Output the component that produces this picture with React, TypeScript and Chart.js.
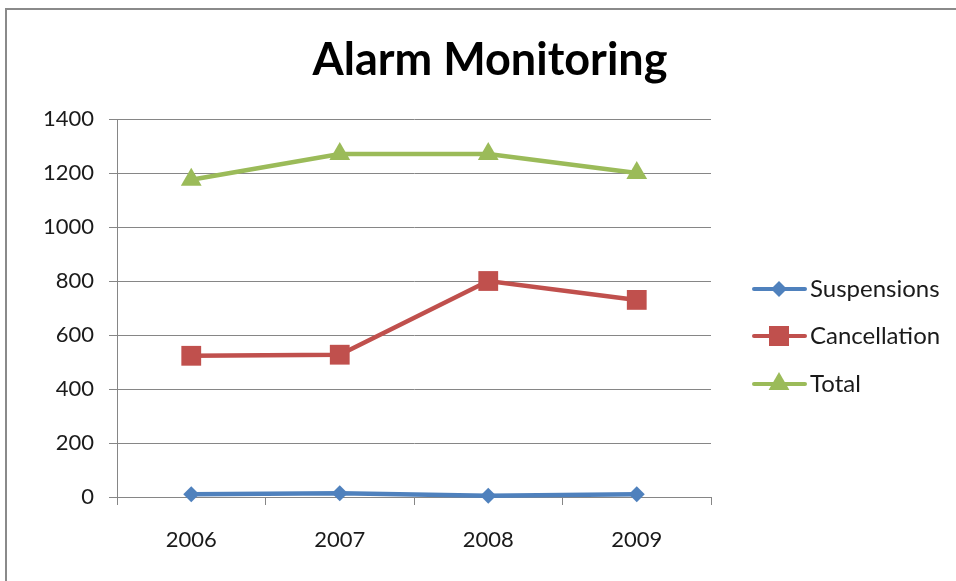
import React, { useEffect, useRef } from 'react';
import { Chart, registerables } from 'chart.js';

Chart.register(...registerables);

const categories = ['2006', '2007', '2008', '2009'];
const suspensions = [10, 14, 5, 10];
const cancellation = [523, 527, 800, 730];
const total = [1175, 1270, 1270, 1200];
const seriesNames = ['Suspensions', 'Cancellation', 'Total'];
const seriesColors = ['#4F81BD', '#C0504D', '#9BBB59'];
const seriesMarkers = ['rectRot', 'rect', 'triangle'];
const titleText = 'Alarm Monitoring';
const yMin = 0;
const yMax = 1400;
const yStep = 200;

const FONT = 'Lato, "Open Sans", sans-serif';

function drawMarker(ctx: CanvasRenderingContext2D, style: string, x: number, y: number, color: string) {
  ctx.save();
  ctx.fillStyle = color;
  ctx.beginPath();
  if (style === 'rectRot') {
    const r = 8;
    ctx.moveTo(x, y - r);
    ctx.lineTo(x + r, y);
    ctx.lineTo(x, y + r);
    ctx.lineTo(x - r, y);
  } else if (style === 'rect') {
    const s = 10;
    ctx.rect(x - s, y - s, 2 * s, 2 * s);
  } else {
    const r = 12;
    ctx.moveTo(x, y - r);
    ctx.lineTo(x + r * 0.866, y + r * 0.5);
    ctx.lineTo(x - r * 0.866, y + r * 0.5);
  }
  ctx.closePath();
  ctx.fill();
  ctx.restore();
}

const framePlugin = {
  id: 'frame',
  beforeDraw(chart: any) {
    const ctx = chart.ctx as CanvasRenderingContext2D;
    ctx.save();
    ctx.fillStyle = '#ffffff';
    ctx.fillRect(0, 0, chart.width, chart.height);
    ctx.strokeStyle = '#8a8a8a';
    ctx.lineWidth = 2;
    ctx.strokeRect(6, 9, chart.width + 20, chart.height + 20);
    ctx.restore();
  },
};

const titlePlugin = {
  id: 'customTitle',
  afterDraw(chart: any) {
    const ctx = chart.ctx as CanvasRenderingContext2D;
    ctx.save();
    ctx.fillStyle = '#000000';
    ctx.font = `bold 45px ${FONT}`;
    ctx.textAlign = 'center';
    ctx.textBaseline = 'middle';
    ctx.fillText(titleText, 490, 60);
    ctx.restore();
  },
};

const legendPlugin = {
  id: 'customLegend',
  afterDraw(chart: any) {
    const ctx = chart.ctx as CanvasRenderingContext2D;
    const ys = [289, 336, 384];
    ctx.save();
    seriesNames.forEach((name, i) => {
      const y = ys[i];
      ctx.strokeStyle = seriesColors[i];
      ctx.lineWidth = 4;
      ctx.lineCap = 'round';
      ctx.beginPath();
      ctx.moveTo(754, y);
      ctx.lineTo(805, y);
      ctx.stroke();
      drawMarker(ctx, seriesMarkers[i], 779, y, seriesColors[i]);
      ctx.fillStyle = '#1a1a1a';
      ctx.font = `24px ${FONT}`;
      ctx.textAlign = 'left';
      ctx.textBaseline = 'middle';
      ctx.fillText(name, 810, y);
    });
    ctx.restore();
  },
};

export default function App() {
  const ref = useRef<HTMLCanvasElement | null>(null);

  useEffect(() => {
    if (!ref.current) return;
    const values = [suspensions, cancellation, total];
    const radii = [8, 14, 12];
    const chart = new Chart(ref.current, {
      type: 'line',
      data: {
        labels: categories,
        datasets: seriesNames.map((name, i) => ({
          label: name,
          data: values[i],
          borderColor: seriesColors[i],
          backgroundColor: seriesColors[i],
          borderWidth: 4.5,
          pointStyle: seriesMarkers[i] as any,
          pointRadius: radii[i],
          pointBorderWidth: 0,
          pointBackgroundColor: seriesColors[i],
          tension: 0,
          clip: false as any,
        })),
      },
      options: {
        responsive: false,
        animation: false,
        layout: { padding: { top: 119, right: 245, bottom: 0, left: 0 } },
        plugins: {
          legend: { display: false },
          title: { display: false },
          tooltip: { enabled: false },
        },
        scales: {
          x: {
            offset: true,
            afterFit(scale: any) {
              scale.height = 84;
            },
            grid: {
              offset: true,
              drawOnChartArea: false,
              drawTicks: true,
              tickLength: 8,
              color: '#868686',
            },
            border: { display: true, color: '#868686' },
            ticks: {
              color: '#1a1a1a',
              font: { family: FONT, size: 22 },
              padding: 22,
            },
          },
          y: {
            min: yMin,
            max: yMax,
            afterFit(scale: any) {
              scale.width = 117;
            },
            grid: {
              color: '#868686',
              drawTicks: true,
              tickLength: 8,
            },
            border: { display: true, color: '#868686' },
            ticks: {
              stepSize: yStep,
              color: '#1a1a1a',
              font: { family: FONT, size: 22 },
              padding: 15,
              callback: (v: any) => String(v),
            },
          },
        },
      },
      plugins: [framePlugin, titlePlugin, legendPlugin],
    });
    return () => chart.destroy();
  }, []);

  return (
    <div style={{ position: 'fixed', left: 0, top: 0, width: 956, height: 581 }}>
      <canvas ref={ref} width={956} height={581} />
    </div>
  );
}
